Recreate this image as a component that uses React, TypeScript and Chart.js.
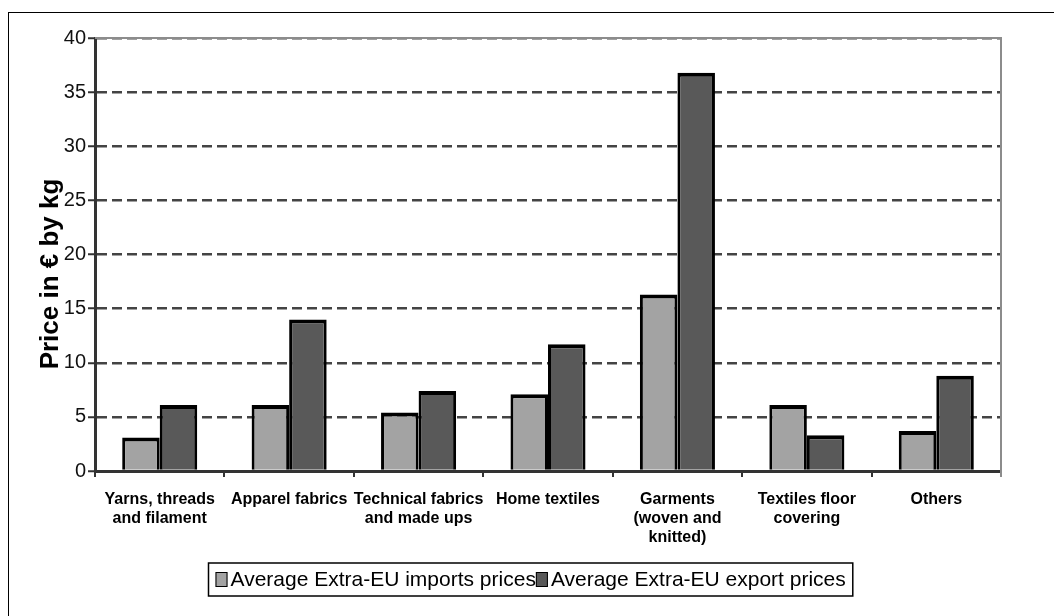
import React, { useEffect, useRef } from "react";
import { Chart, registerables } from "chart.js";

Chart.register(...registerables);

const FONT = "'Liberation Sans', Arial, Helvetica, sans-serif";

// Product groups (multi-line axis labels)
const categories: string[][] = [
  ["Yarns, threads", "and filament"],
  ["Apparel fabrics"],
  ["Technical fabrics", "and made ups"],
  ["Home textiles"],
  ["Garments", "(woven and", "knitted)"],
  ["Textiles floor", "covering"],
  ["Others"],
];

const seriesNames = [
  "Average Extra-EU imports prices",
  "Average Extra-EU export prices",
];

// Price in € per kg
const importPrices = [3.1, 6.1, 5.4, 7.1, 16.3, 6.1, 3.7];
const exportPrices = [6.1, 14.0, 7.4, 11.7, 36.8, 3.3, 8.8];

const yAxisTitle = "Price in € by kg";
const yMin = 0;
const yMax = 40;
const yStep = 5;

const importColor = "#a3a3a3";
const exportColor = "#595959";

// Grey frame on the top and right edges of the plot area
const plotFramePlugin = {
  id: "plotFrame",
  afterDatasetsDraw(chart: any) {
    const { ctx, chartArea } = chart;
    ctx.save();
    ctx.strokeStyle = "#8c8c8c";
    ctx.lineWidth = 2;
    ctx.beginPath();
    ctx.moveTo(chartArea.left, chartArea.top);
    ctx.lineTo(chartArea.right, chartArea.top);
    ctx.lineTo(chartArea.right, chartArea.bottom + 6);
    ctx.stroke();
    ctx.restore();
  },
};

// Rotated y-axis title
const yTitlePlugin = {
  id: "yTitle",
  afterDraw(chart: any) {
    const { ctx } = chart;
    ctx.save();
    ctx.translate(42, 261);
    ctx.rotate(-Math.PI / 2);
    ctx.font = `bold 26px ${FONT}`;
    ctx.fillStyle = "#000";
    ctx.textAlign = "center";
    ctx.textBaseline = "middle";
    ctx.fillText(yAxisTitle, 0, 0);
    ctx.restore();
  },
};

// Boxed legend below the axis labels
const boxedLegendPlugin = {
  id: "boxedLegend",
  afterDraw(chart: any) {
    const { ctx } = chart;
    const datasets = chart.data.datasets;
    ctx.save();
    ctx.font = `21px ${FONT}`;
    const sqW = 12;
    const sqH = 15;
    const sqGap = 3;
    const pad = 7;
    const widths = datasets.map((d: any) => ctx.measureText(d.label).width);
    const total = widths.reduce((a: number, w: number) => a + sqW + sqGap + w, 0);
    const boxW = total + pad * 2;
    const boxH = 33;
    const cx = 521;
    const top = 550;
    const left = Math.round(cx - boxW / 2) + 0.5;
    ctx.fillStyle = "#fff";
    ctx.fillRect(left, top, boxW, boxH);
    ctx.strokeStyle = "#000";
    ctx.lineWidth = 1.5;
    ctx.strokeRect(left, top, boxW, boxH);
    let x = left + pad;
    const cy = top + boxH / 2;
    datasets.forEach((d: any, i: number) => {
      ctx.fillStyle = d.backgroundColor;
      ctx.fillRect(x, cy - sqH / 2, sqW, sqH);
      ctx.strokeStyle = "#000";
      ctx.lineWidth = 1;
      ctx.strokeRect(x + 0.5, cy - sqH / 2 + 0.5, sqW - 1, sqH - 1);
      x += sqW + sqGap;
      ctx.fillStyle = "#000";
      ctx.textAlign = "left";
      ctx.textBaseline = "middle";
      ctx.fillText(d.label, x, cy + 1);
      x += widths[i];
    });
    ctx.restore();
  },
};

const barBorder = { top: 4, left: 3, right: 3, bottom: 0 };

export default function App() {
  const canvasRef = useRef<HTMLCanvasElement>(null);

  useEffect(() => {
    const canvas = canvasRef.current;
    if (!canvas) return;
    const chart = new Chart(canvas, {
      type: "bar",
      data: {
        labels: categories,
        datasets: [
          {
            label: seriesNames[0],
            data: importPrices,
            backgroundColor: importColor,
            borderColor: "#000",
            borderWidth: barBorder,
          },
          {
            label: seriesNames[1],
            data: exportPrices,
            backgroundColor: exportColor,
            borderColor: "#000",
            borderWidth: barBorder,
          },
        ],
      },
      options: {
        responsive: false,
        animation: false,
        devicePixelRatio: 1,
        layout: { padding: { top: 25, left: 0, right: 53, bottom: 65 } },
        datasets: { bar: { categoryPercentage: 0.58, barPercentage: 1 } },
        plugins: {
          legend: { display: false },
          tooltip: { enabled: false },
        },
        scales: {
          x: {
            z: 1,
            grid: {
              offset: true,
              drawOnChartArea: false,
              tickLength: 6,
              color: "#333",
              lineWidth: 2,
            },
            border: { color: "#333", width: 3 },
            ticks: {
              font: { family: FONT, size: 16, weight: "bold" },
              color: "#000",
              padding: 13,
              maxRotation: 0,
              autoSkip: false,
            },
            afterFit: (s: any) => {
              s.height = 80;
            },
          },
          y: {
            min: yMin,
            max: yMax,
            ticks: {
              stepSize: yStep,
              font: { family: FONT, size: 20 },
              color: "#111",
              padding: 2,
            },
            grid: {
              color: "#444",
              lineWidth: 2.5,
              tickLength: 7,
              tickColor: "#333",
              tickWidth: 2,
              tickBorderDash: [],
            },
            border: { dash: [10, 5], color: "#333", width: 3 },
            afterFit: (s: any) => {
              s.width = 86;
            },
          },
        },
      } as any,
      plugins: [plotFramePlugin, yTitlePlugin, boxedLegendPlugin],
    });
    return () => chart.destroy();
  }, []);

  return (
    <div
      style={{
        position: "fixed",
        left: 8,
        top: 12,
        right: -20,
        bottom: -20,
        borderLeft: "1px solid #000",
        borderTop: "1px solid #000",
        background: "#fff",
      }}
    >
      <canvas ref={canvasRef} width={1045} height={603} style={{ display: "block" }} />
    </div>
  );
}
